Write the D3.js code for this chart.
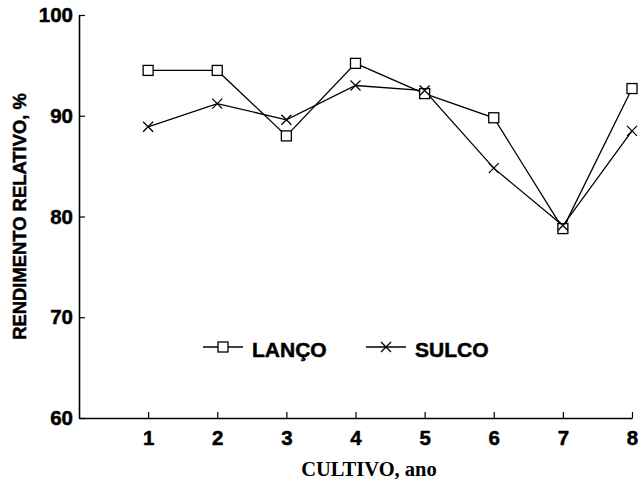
<!DOCTYPE html>
<html>
<head>
<meta charset="utf-8">
<script src="https://cdn.jsdelivr.net/npm/d3@7"></script>
<style>
  body { margin: 0; background: #fff; }
  text { font-family: "Liberation Sans", Arial, sans-serif; font-weight: bold; fill: #000; }
  .heavy { stroke: #000; stroke-width: 0.5px; }
</style>
</head>
<body>
<div id="chart"></div>
<script>
// data
const cultivos = [1, 2, 3, 4, 5, 6, 7, 8];
const lanco = [94.5, 94.5, 88.0, 95.2, 92.2, 89.8, 78.8, 92.7];
const sulco = [88.9, 91.2, 89.6, 93.0, 92.5, 84.8, 79.1, 88.5];
const yTicks = [60, 70, 80, 90, 100];
const seriesNames = ["LANÇO", "SULCO"];

const width = 639, height = 481;
const margin = { top: 15, bottom: 63, left: 79, right: 7 };

const svg = d3.select("#chart").append("svg")
  .attr("width", width)
  .attr("height", height);

const x = d3.scaleLinear().domain([0, 8]).range([margin.left, width - margin.right]);
const y = d3.scaleLinear().domain([60, 100]).range([height - margin.bottom, margin.top]);

// axes
const yAxis = svg.append("g")
  .attr("transform", `translate(${margin.left},0)`)
  .call(d3.axisLeft(y).tickValues(yTicks).tickSize(-6).tickSizeOuter(0).tickPadding(6));
yAxis.selectAll("text").attr("class", "heavy").style("font-size", "20.5px");

const xAxis = svg.append("g")
  .attr("transform", `translate(0,${height - margin.bottom})`)
  .call(d3.axisBottom(x).tickValues(cultivos).tickSize(-6).tickSizeOuter(0).tickPadding(12));
xAxis.selectAll("text").attr("class", "heavy").style("font-size", "20.5px");

svg.selectAll(".domain").attr("stroke", "#000").attr("stroke-width", 1.6);
svg.selectAll(".tick line").attr("stroke", "#000").attr("stroke-width", 1.2);

// axis titles
svg.append("text")
  .attr("class", "heavy")
  .attr("transform", `translate(26,${(y(60) + y(100)) / 2}) rotate(-90)`)
  .attr("text-anchor", "middle")
  .style("font-size", "18.4px")
  .text("RENDIMENTO RELATIVO, %");

svg.append("text")
  .attr("x", 369)
  .attr("y", 476)
  .attr("text-anchor", "middle")
  .style("font-family", "'Liberation Serif', 'Times New Roman', serif")
  .style("font-size", "20.5px")
  .text("CULTIVO, ano");

// lines
const line = d3.line().x((d, i) => x(cultivos[i])).y(d => y(d));

svg.append("path").datum(lanco)
  .attr("d", line).attr("fill", "none").attr("stroke", "#000").attr("stroke-width", 1.3);
svg.append("path").datum(sulco)
  .attr("d", line).attr("fill", "none").attr("stroke", "#000").attr("stroke-width", 1.3);

const sq = 10, cr = 5;
function square(g, cx, cy) {
  g.append("rect")
    .attr("x", cx - sq / 2).attr("y", cy - sq / 2)
    .attr("width", sq).attr("height", sq)
    .attr("fill", "#fff").attr("stroke", "#000").attr("stroke-width", 1.3);
}
function cross(g, cx, cy) {
  g.append("path")
    .attr("d", `M${cx - cr},${cy - cr}L${cx + cr},${cy + cr}M${cx - cr},${cy + cr}L${cx + cr},${cy - cr}`)
    .attr("stroke", "#000").attr("stroke-width", 1.3);
}

const marks = svg.append("g");
lanco.forEach((v, i) => square(marks, x(cultivos[i]), y(v)));
sulco.forEach((v, i) => cross(marks, x(cultivos[i]), y(v)));

// legend
const legY = 347;
const legend = svg.append("g");
[[203, seriesNames[0], square], [366, seriesNames[1], cross]].forEach(([lx, name, mark]) => {
  legend.append("line")
    .attr("x1", lx).attr("x2", lx + 40).attr("y1", legY).attr("y2", legY)
    .attr("stroke", "#000").attr("stroke-width", 1.3);
  mark(legend, lx + 20, legY);
  legend.append("text")
    .attr("class", "heavy")
    .attr("x", lx + 49).attr("y", legY + 10)
    .style("font-size", "21px")
    .text(name);
});
</script>
</body>
</html>
